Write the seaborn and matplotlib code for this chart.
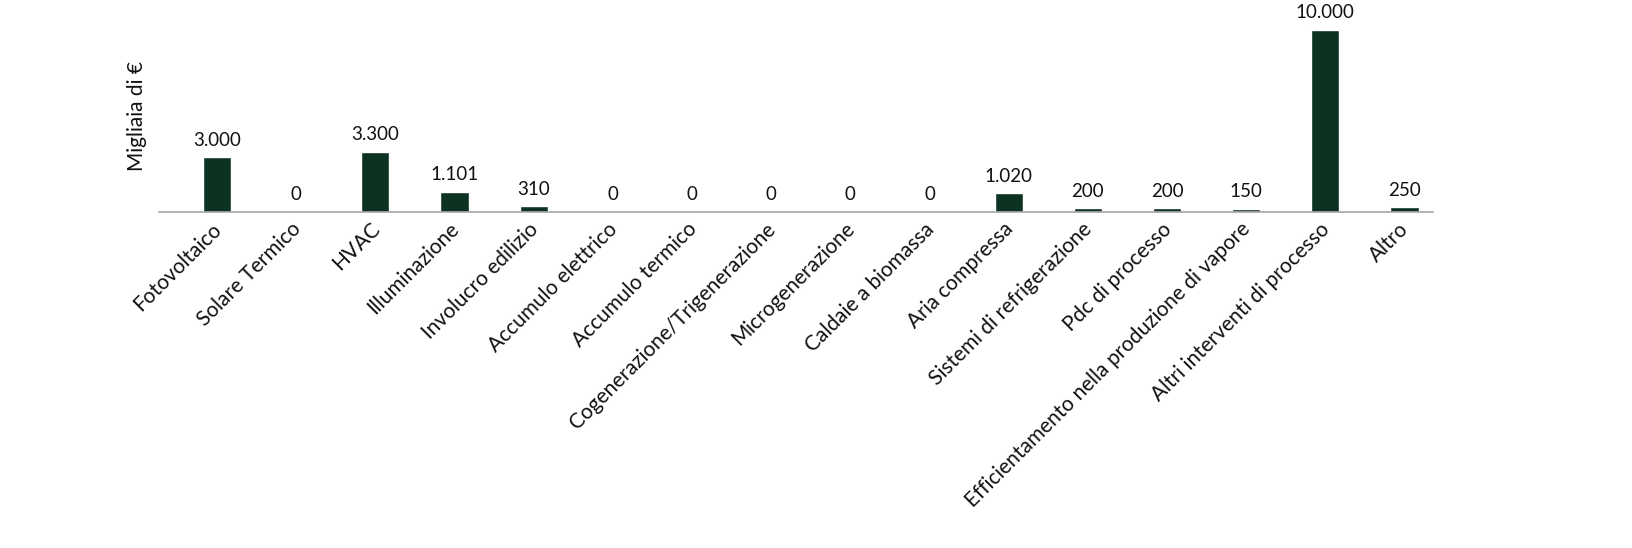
import pandas as pd
import matplotlib
matplotlib.use("Agg")
import matplotlib.pyplot as plt
import matplotlib.transforms as mtransforms
import seaborn as sns

categories = [
    "Fotovoltaico", "Solare Termico", "HVAC", "Illuminazione", "Involucro edilizio",
    "Accumulo elettrico", "Accumulo termico", "Cogenerazione/Trigenerazione",
    "Microgenerazione", "Caldaie a biomassa", "Aria compressa",
    "Sistemi di refrigerazione", "Pdc di processo",
    "Efficientamento nella produzione di vapore", "Altri interventi di processo", "Altro",
]
values = [3000, 0, 3300, 1101, 310, 0, 0, 0, 0, 0, 1020, 200, 200, 150, 10000, 250]
y_label = "Migliaia di €"

sns.set_theme(style="white")
plt.rcParams["font.family"] = ["Lato", "DejaVu Sans"]

df = pd.DataFrame({"categoria": categories, "valore": values})

fig = plt.figure(figsize=(16.32, 5.48), dpi=100)
ax = fig.add_axes([159 / 1632, 1 - 212 / 548, (1433 - 159) / 1632, 200 / 548])

sns.barplot(data=df, x="categoria", y="valore", color="#0c3322", saturation=1,
            width=0.355, ax=ax)

ax.set_xlim(-0.733, 15.36)
ax.set_ylim(0, 11000)

# value labels, italian thousands separator
for i, v in enumerate(values):
    ax.annotate(f"{v:,}".replace(",", "."), (i, v), xytext=(0, 8.5),
                textcoords="offset points", ha="center", va="baseline",
                fontsize=13.5, color="#111111")

sns.despine(ax=ax, left=True, top=True, right=True)
ax.spines["bottom"].set_color("#a6a6a6")
ax.spines["bottom"].set_linewidth(1.2)
ax.set_yticks([])
ax.tick_params(axis="x", length=0, pad=5)
ax.set_xticks(range(len(categories)))
ax.set_xticklabels(categories, rotation=45, ha="right", va="top",
                   fontsize=15, color="#111111")
# nudge labels a little to the right, like the original
shift = mtransforms.ScaledTranslation(6 / 72, 0, fig.dpi_scale_trans)
for lab in ax.get_xticklabels():
    lab.set_transform(lab.get_transform() + shift)
ax.set_xlabel("")
ax.set_ylabel(y_label, fontsize=15, color="#111111")
ax.yaxis.set_label_coords(-0.0094, 0.48)

fig.savefig("out.png", dpi=100)
